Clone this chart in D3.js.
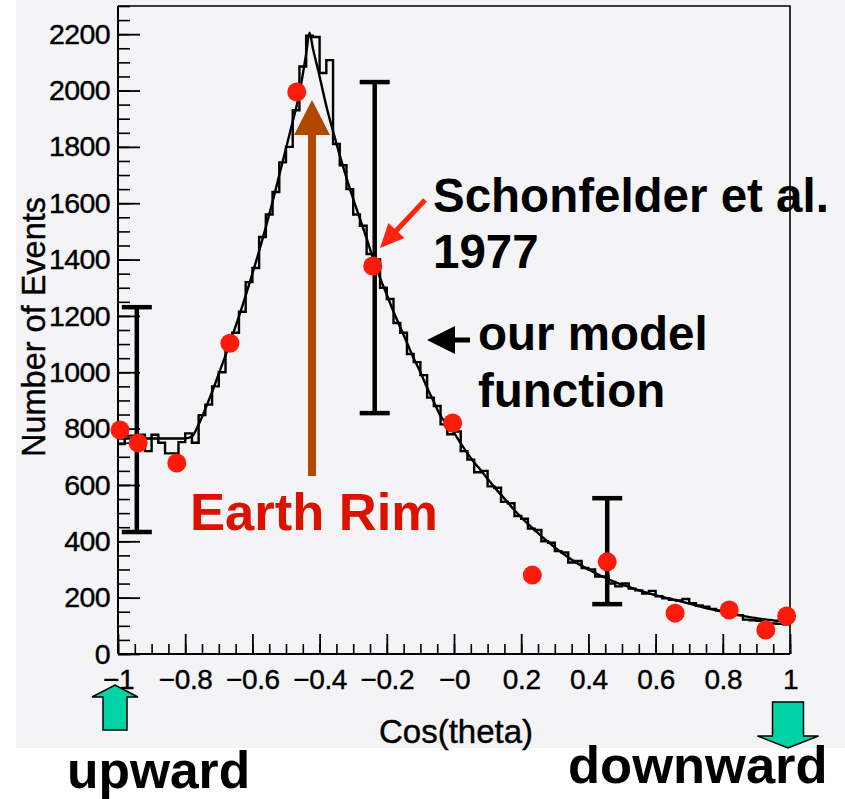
<!DOCTYPE html>
<html>
<head>
<meta charset="utf-8">
<script src="https://cdn.jsdelivr.net/npm/d3@7"></script>
<style>
  html, body { margin: 0; padding: 0; background: #ffffff; }
  svg { display: block; font-family: "Liberation Sans", Arial, Helvetica, sans-serif; }
</style>
</head>
<body>
<svg id="chart" width="845" height="799"></svg>
<script>
// Histogram: 100 bins of width 0.02 on cos(theta) from -1 to 1 (counts per bin)
const binEdgeStart = -1;
const binWidth = 0.02;
const histCounts = [
  745, 775, 775, 778, 720, 778, 750, 712, 712, 752,
  783, 750, 848, 885, 950, 1000, 1090, 1140, 1215, 1320,
  1370, 1480, 1560, 1640, 1745, 1800, 1930, 2085, 2195, 2190,
  2062, 2108, 1810, 1735, 1650, 1560, 1520, 1420, 1400, 1300,
  1260, 1175, 1140, 1065, 1036, 990, 910, 880, 815, 780,
  790, 720, 690, 645, 650, 595, 590, 540, 535, 490,
  480, 445, 440, 400, 395, 365, 360, 325, 330, 305,
  300, 275, 275, 250, 240, 250, 232, 226, 215, 224,
  205, 198, 192, 190, 195, 180, 172, 168, 160, 155,
  150, 140, 138, 122, 120, 118, 110, 108, 107, 105
];

// Model function sampled along cos(theta)
const modelCos = [
  -1.00, -0.90, -0.80, -0.78, -0.76, -0.74, -0.72, -0.70, -0.68, -0.66,
  -0.64, -0.62, -0.60, -0.58, -0.56, -0.54, -0.52, -0.50, -0.48, -0.46,
  -0.44, -0.43, -0.42, -0.40, -0.38, -0.36, -0.34, -0.32, -0.30, -0.28,
  -0.26, -0.24, -0.22, -0.20, -0.18, -0.16, -0.14, -0.12, -0.10, -0.08,
  -0.06, -0.04, -0.02, 0.00, 0.02, 0.04, 0.06, 0.08, 0.10, 0.12,
  0.14, 0.16, 0.18, 0.20, 0.24, 0.28, 0.32, 0.36, 0.40, 0.44,
  0.48, 0.52, 0.56, 0.60, 0.64, 0.68, 0.72, 0.76, 0.80, 0.84,
  0.88, 0.92, 0.96, 1.00
];
const modelCounts = [
  765, 765, 765, 772, 815, 870, 930, 995, 1060, 1128,
  1198, 1272, 1350, 1430, 1515, 1605, 1700, 1795, 1890, 1990,
  2130, 2205, 2150, 2050, 1945, 1855, 1770, 1690, 1615, 1545,
  1475, 1400, 1335, 1275, 1215, 1160, 1105, 1050, 1000, 945,
  895, 845, 815, 785, 748, 712, 680, 652, 622, 592,
  565, 538, 510, 485, 440, 398, 360, 327, 300, 276,
  255, 238, 222, 209, 197, 185, 172, 160, 150, 140,
  131, 124, 118, 115
];

// Schonfelder et al. 1977 measurements
const refCos = [-0.994, -0.94, -0.825, -0.667, -0.468, -0.242, -0.004, 0.233, 0.456, 0.658, 0.819, 0.928, 0.99];
const refCounts = [795, 749, 678, 1103, 1995, 1377, 820, 280, 327, 145, 156, 85, 135];

// Representative error bars
const errCos = [-0.944, -0.236, 0.456];
const errLow = [433, 855, 177];
const errHigh = [1231, 2030, 553];

// Axis ticks
const xTickValues = [-1, -0.8, -0.6, -0.4, -0.2, 0, 0.2, 0.4, 0.6, 0.8, 1];
const xTickLabels = ["\u22121", "\u22120.8", "\u22120.6", "\u22120.4", "\u22120.2", "\u22120", "0.2", "0.4", "0.6", "0.8", "1"];
const yTickValues = [0, 200, 400, 600, 800, 1000, 1200, 1400, 1600, 1800, 2000, 2200];
const yTickLabels = ["0", "200", "400", "600", "800", "1000", "1200", "1400", "1600", "1800", "2000", "2200"];

const svg = d3.select("#chart");

// Canvas background
svg.append("rect").attr("x", 16).attr("y", 0).attr("width", 829).attr("height", 748).attr("fill", "#f4f3f6");

const x = d3.scaleLinear().domain([-1, 1]).range([118, 790]);
const y = d3.scaleLinear().domain([0, 2300]).range([654, 6]);

// Frame (top and right)
svg.append("path")
  .attr("d", `M${x(-1)},${y(2300)}H${x(1)}V${y(0)}`)
  .attr("fill", "none").attr("stroke", "#000").attr("stroke-width", 1.6);

// Histogram outline
const stepPts = [];
histCounts.forEach((c, i) => {
  const a = binEdgeStart + i * binWidth;
  stepPts.push([a, c], [a + binWidth, c]);
});
svg.append("path")
  .datum(stepPts)
  .attr("d", d3.line().x(d => x(d[0])).y(d => y(d[1])))
  .attr("fill", "none").attr("stroke", "#000").attr("stroke-width", 2.4)
  .attr("stroke-linejoin", "miter");

// Model function
svg.append("path")
  .datum(modelCos.map((c, i) => [c, modelCounts[i]]))
  .attr("d", d3.line().x(d => x(d[0])).y(d => y(d[1])).curve(d3.curveMonotoneX))
  .attr("fill", "none").attr("stroke", "#000").attr("stroke-width", 2.4);

// Axes
const tickFont = "'Liberation Sans', Arial, sans-serif";
const yMinor = d3.range(0, 2301, 50);
svg.append("g").attr("transform", `translate(${x(-1)},0)`)
  .call(d3.axisLeft(y).tickValues(yMinor).tickSize(-12).tickSizeOuter(0).tickFormat(""))
  .call(g => g.select(".domain").remove())
  .call(g => g.selectAll("line").attr("stroke-width", 1.6));
svg.append("g").attr("transform", `translate(${x(-1)},0)`)
  .call(d3.axisLeft(y).tickValues(yTickValues).tickSize(-22).tickSizeOuter(0).tickPadding(8)
    .tickFormat((d, i) => yTickLabels[i]))
  .call(g => g.select(".domain").attr("d", `M0,${y(0)}V${y(2300)}`).attr("stroke-width", 2))
  .call(g => g.selectAll("line").attr("stroke-width", 1.8))
  .call(g => g.selectAll("text").attr("font-size", 28.5).attr("fill", "#000")
    .attr("font-family", tickFont).attr("letter-spacing", -0.6)
    .attr("stroke", "#000").attr("stroke-width", 0.4));

const xMinor = d3.range(0, 41).map(i => -1 + i * 0.05);
svg.append("g").attr("transform", `translate(0,${y(0)})`)
  .call(d3.axisBottom(x).tickValues(xMinor).tickSize(-10).tickSizeOuter(0).tickFormat(""))
  .call(g => g.select(".domain").remove())
  .call(g => g.selectAll("line").attr("stroke-width", 1.6));
svg.append("g").attr("transform", `translate(0,${y(0)})`)
  .call(d3.axisBottom(x).tickValues(xTickValues).tickSize(-20).tickSizeOuter(0).tickPadding(15)
    .tickFormat((d, i) => xTickLabels[i]))
  .call(g => g.select(".domain").attr("d", `M${x(-1)},0H${x(1)}`).attr("stroke-width", 2))
  .call(g => g.selectAll("line").attr("stroke-width", 1.8))
  .call(g => g.selectAll("text").attr("font-size", 28).attr("fill", "#000")
    .attr("font-family", tickFont).attr("letter-spacing", -0.4)
    .attr("stroke", "#000").attr("stroke-width", 0.4));

// Axis titles
svg.append("text")
  .attr("transform", `translate(45,${327}) rotate(-90)`)
  .attr("text-anchor", "middle").attr("font-size", 32.5)
  .attr("stroke", "#000").attr("stroke-width", 0.4).text("Number of Events");
svg.append("text")
  .attr("x", 456).attr("y", 743)
  .attr("text-anchor", "middle").attr("font-size", 33)
  .attr("stroke", "#000").attr("stroke-width", 0.4).text("Cos(theta)");

// Error bars
errCos.forEach((c, i) => {
  const g = svg.append("g").attr("stroke", "#000").attr("stroke-width", 4.5);
  g.append("line").attr("x1", x(c)).attr("x2", x(c)).attr("y1", y(errLow[i])).attr("y2", y(errHigh[i]));
  g.append("line").attr("x1", x(c) - 15).attr("x2", x(c) + 15).attr("y1", y(errLow[i])).attr("y2", y(errLow[i]));
  g.append("line").attr("x1", x(c) - 15).attr("x2", x(c) + 15).attr("y1", y(errHigh[i])).attr("y2", y(errHigh[i]));
});

// Measurement points
svg.append("g").selectAll("circle")
  .data(refCos.map((c, i) => [c, refCounts[i]]))
  .join("circle")
  .attr("cx", d => x(d[0])).attr("cy", d => y(d[1])).attr("r", 9.5)
  .attr("fill", "#ff1a0a");

// Arrow helper: straight shaft with triangular head
function arrow(x0, y0, x1, y1, shaftW, headL, headW, fill, stroke) {
  const dx = x1 - x0, dy = y1 - y0, len = Math.hypot(dx, dy);
  const ux = dx / len, uy = dy / len, px = -uy, py = ux;
  const bx = x1 - ux * headL, by = y1 - uy * headL;
  const s = shaftW / 2, h = headW / 2;
  const pts = [
    [x0 + px * s, y0 + py * s], [bx + px * s, by + py * s], [bx + px * h, by + py * h],
    [x1, y1],
    [bx - px * h, by - py * h], [bx - px * s, by - py * s], [x0 - px * s, y0 - py * s]
  ];
  const p = svg.append("path").attr("d", "M" + pts.map(q => q.join(",")).join("L") + "Z").attr("fill", fill);
  if (stroke) p.attr("stroke", stroke).attr("stroke-width", 1.5).attr("stroke-linejoin", "miter");
}

// Earth Rim arrow
arrow(312, 476, 312, 100, 8, 35, 36, "#b04800");
// Pointer to the 1977 data
arrow(425, 200, 380, 248, 5, 24, 22, "#ff2410");
// Pointer to the model function
arrow(470, 340, 427, 340, 5, 28, 28, "#000");
// Direction arrows
arrow(115, 730, 115, 685, 24, 12, 46, "#00d4a6", "#000");
arrow(788, 702, 788, 748, 31, 12, 61, "#00d4a6", "#000");

// Annotations
svg.append("text").attr("x", 190).attr("y", 530).attr("font-size", 52.5).attr("font-weight", "bold")
  .attr("fill", "#dc1200").text("Earth Rim");
svg.append("text").attr("x", 433).attr("y", 212).attr("font-size", 47.5).attr("font-weight", "bold")
  .text("Schonfelder et al.");
svg.append("text").attr("x", 433).attr("y", 268).attr("font-size", 47.5).attr("font-weight", "bold")
  .text("1977");
svg.append("text").attr("x", 478).attr("y", 350).attr("font-size", 47.5).attr("font-weight", "bold")
  .text("our model");
svg.append("text").attr("x", 478).attr("y", 407).attr("font-size", 47.5).attr("font-weight", "bold")
  .text("function");
svg.append("text").attr("x", 67).attr("y", 788).attr("font-size", 51.5).attr("font-weight", "bold")
  .text("upward");
svg.append("text").attr("x", 568).attr("y", 783).attr("font-size", 52.5).attr("font-weight", "bold")
  .text("downward");
</script>
</body>
</html>
